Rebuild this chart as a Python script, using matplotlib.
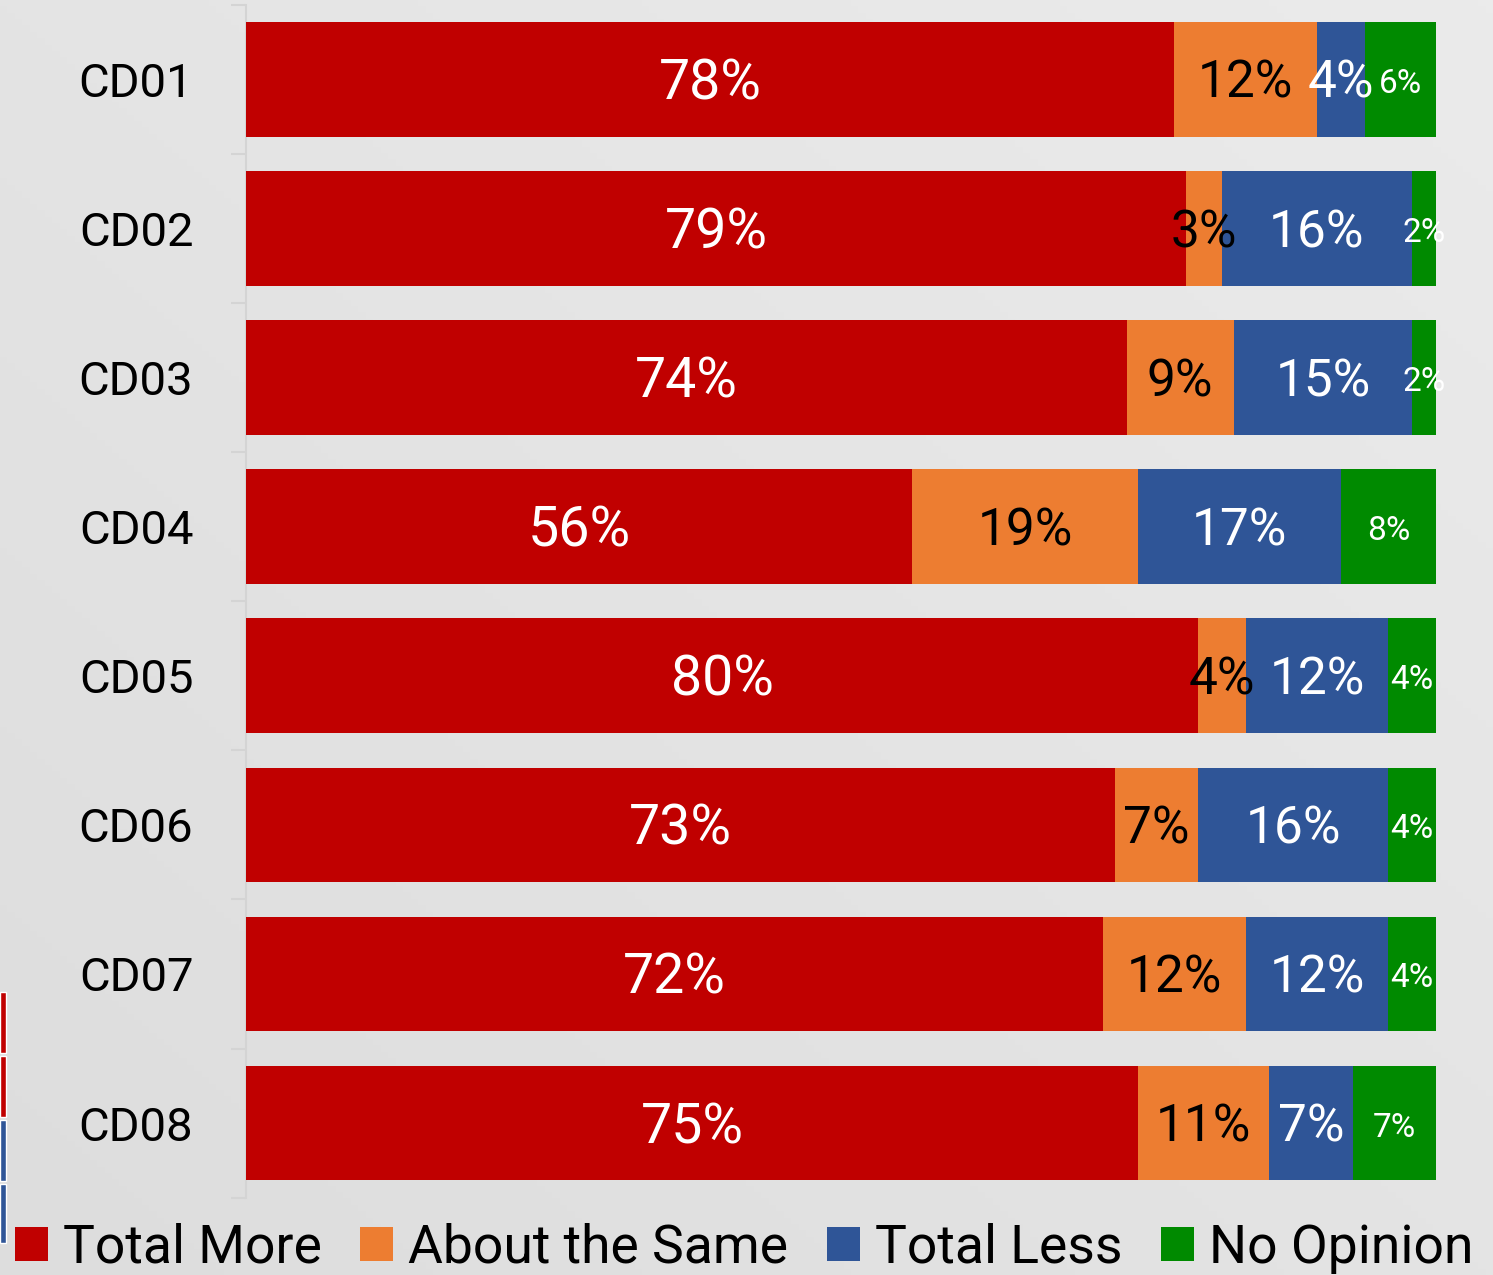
import numpy as np
import matplotlib
matplotlib.use('Agg')
import matplotlib.pyplot as plt
from matplotlib.patches import Patch, Rectangle

plt.rcParams['font.family'] = ['Roboto', 'DejaVu Sans']

categories = ['CD01', 'CD02', 'CD03', 'CD04', 'CD05', 'CD06', 'CD07', 'CD08']
total_more = [78, 79, 74, 56, 80, 73, 72, 75]
about_same = [12, 3, 9, 19, 4, 7, 12, 11]
total_less = [4, 16, 15, 17, 12, 16, 12, 7]
no_opinion = [6, 2, 2, 8, 4, 4, 4, 7]

series = [
    ('Total More', total_more, '#c00000', 'white', 40),
    ('About the Same', about_same, '#ed7d31', 'black', 37),
    ('Total Less', total_less, '#2f5597', 'white', 37),
    ('No Opinion', no_opinion, '#008a00', 'white', 24),
]

fig = plt.figure(figsize=(14.93, 12.75), dpi=100)

# soft gray gradient background
bg = fig.add_axes([0, 0, 1, 1], zorder=-10)
gx, gy = np.meshgrid(np.linspace(0, 1, 200), np.linspace(0, 1, 200))
grad = 0.5 * gx + 0.5 * (1 - gy)
bg.imshow(grad, cmap=matplotlib.colors.LinearSegmentedColormap.from_list('g', ['#dddddd', '#ebebeb']),
          extent=[0, 1, 0, 1], aspect='auto', origin='upper')
bg.axis('off')

ax = fig.add_axes([0.1648, 0.0607, 0.797, 0.9354])
ax.patch.set_alpha(0)

y = np.arange(len(categories))
left = np.zeros(len(categories))
for name, vals, color, tcolor, fs in series:
    vals = np.array(vals, dtype=float)
    ax.barh(y, vals, left=left, height=0.77, color=color, label=name, zorder=3)
    for yi, (l, v) in enumerate(zip(left, vals)):
        ax.text(l + v / 2, yi + 0.03, f'{int(v)}%', ha='center', va='center',
                color=tcolor, fontsize=fs, zorder=4)
    left += vals

ax.set_xlim(0, 100)
ax.set_ylim(len(categories) - 0.5, -0.5)
ax.set_yticks(y)
ax.set_yticklabels(categories, fontsize=34)
ax.set_yticks(np.arange(-0.5, len(categories)), minor=True)
ax.tick_params(axis='y', which='major', length=0, pad=38)
ax.tick_params(axis='y', which='minor', length=11, color='#d4d4d4', width=1.5)
ax.set_xticks([])
for s in ['top', 'right', 'bottom']:
    ax.spines[s].set_visible(False)
ax.spines['left'].set_color('#d4d4d4')
ax.spines['left'].set_linewidth(1.5)

handles = [Patch(facecolor=c, label=n) for n, _, c, _, _ in series]
fig.legend(handles=handles, loc='center', bbox_to_anchor=(0.4985, 0.021), ncol=4,
           frameon=False, fontsize=38.5, handlelength=0.62, handleheight=0.62,
           handletextpad=0.28, columnspacing=0.72, borderaxespad=0)

# small colored strip at left edge
for y0, y1, c in [(992, 1053, '#c00000'), (1056, 1117, '#c00000'),
                  (1120, 1181, '#2f5597'), (1184, 1243, '#2f5597')]:
    fig.patches.append(Rectangle((0, 1 - y1 / 1275), 6 / 1493, (y1 - y0) / 1275,
                                 transform=fig.transFigure, facecolor=c,
                                 edgecolor='white', linewidth=1))

fig.savefig('out.png', dpi=100)
